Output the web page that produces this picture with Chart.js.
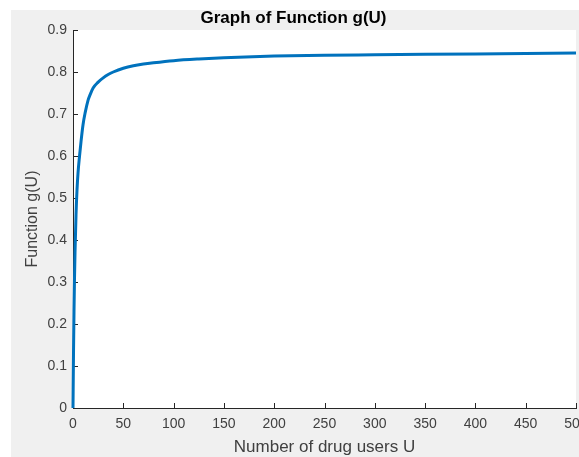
<!DOCTYPE html>
<html>
<head>
<meta charset="utf-8">
<script src="https://cdn.jsdelivr.net/npm/chart.js@4/dist/chart.umd.min.js"></script>
<style>
  html, body { margin: 0; padding: 0; background: #fff; overflow: hidden; }
  #wrap { position: absolute; left: 11px; top: 10px; width: 600px; height: 447px; background: #f0f0f0; }
</style>
</head>
<body>
<div id="wrap"><canvas id="gChart" width="600" height="447"></canvas></div>
<script>
(() => {
    'use strict'

    // g(U) sampled along the curve
    const users = [0, 0.5, 1, 1.5, 2, 3, 4, 5, 6.5, 8, 10, 12, 15, 17, 20, 25, 30, 35, 40, 50, 60, 70, 80, 100, 125, 150, 200, 250, 300, 350, 400, 450, 500]
    const gValues = [0, 0.13, 0.23, 0.31, 0.37, 0.46, 0.52, 0.56, 0.60, 0.635, 0.675, 0.702, 0.733, 0.746, 0.762, 0.776, 0.786, 0.794, 0.800, 0.809, 0.815, 0.819, 0.822, 0.827, 0.831, 0.834, 0.838, 0.840, 0.841, 0.842, 0.843, 0.844, 0.845]

    const xTicks = [0, 50, 100, 150, 200, 250, 300, 350, 400, 450, 500]
    const yTicks = [0, 0.1, 0.2, 0.3, 0.4, 0.5, 0.6, 0.7, 0.8, 0.9]
    const yTickLabels = ['0', '0.1', '0.2', '0.3', '0.4', '0.5', '0.6', '0.7', '0.8', '0.9']

    const axisColor = '#262626'
    const textColor = '#404040'
    const family = '"Liberation Sans", Arial, Helvetica, sans-serif'

    // white plot area + inward tick marks
    const axesBox = {
        id: 'axesBox',
        beforeDraw(chart) {
            const { ctx, chartArea: a } = chart
            ctx.save()
            ctx.fillStyle = '#fff'
            ctx.fillRect(a.left, a.top, a.right - a.left, a.bottom - a.top)
            ctx.restore()
        },
        beforeDatasetsDraw(chart) {
            const { ctx, chartArea: a, scales } = chart
            ctx.save()
            ctx.strokeStyle = axisColor
            ctx.lineWidth = 1
            ctx.beginPath()
            scales.x.ticks.forEach(t => {
                const px = Math.round(scales.x.getPixelForValue(t.value)) + 0.5
                ctx.moveTo(px, a.bottom)
                ctx.lineTo(px, a.bottom - 5)
            })
            scales.y.ticks.forEach(t => {
                const py = Math.round(scales.y.getPixelForValue(t.value)) + 0.5
                ctx.moveTo(a.left, py)
                ctx.lineTo(a.left + 5, py)
            })
            ctx.stroke()
            ctx.restore()
        }
    }

    const ctx = document.getElementById('gChart')
    // eslint-disable-next-line no-unused-vars
    const gChart = new Chart(ctx, {
        type: 'scatter',
        data: {
            datasets: [{
                data: users.map((u, i) => ({ x: u, y: gValues[i] })),
                showLine: true,
                borderColor: '#0072BD',
                borderWidth: 3,
                pointRadius: 0,
                cubicInterpolationMode: 'monotone',
                clip: 4
            }]
        },
        options: {
            responsive: false,
            animation: false,
            layout: { padding: { left: 0, right: 35, top: 0, bottom: 0 } },
            plugins: {
                legend: { display: false },
                tooltip: { enabled: false },
                title: {
                    display: true,
                    text: 'Graph of Function g(U)',
                    color: '#000',
                    font: { family, size: 17, weight: 'bold', lineHeight: 1 },
                    padding: { top: 0, bottom: 3 }
                }
            },
            scales: {
                x: {
                    type: 'linear',
                    min: 0,
                    max: 500,
                    afterBuildTicks: s => { s.ticks = xTicks.map(v => ({ value: v })) },
                    afterFit: s => { s.height = 49 },
                    grid: { display: false, drawTicks: false },
                    border: { display: true, color: axisColor, width: 1 },
                    ticks: {
                        color: textColor,
                        font: { family, size: 14 },
                        padding: 8,
                        maxRotation: 0
                    },
                    title: {
                        display: true,
                        text: 'Number of drug users U',
                        color: textColor,
                        font: { family, size: 17, lineHeight: 1.1 },
                        padding: { top: 0, bottom: 0 }
                    }
                },
                y: {
                    min: 0,
                    max: 0.9,
                    afterBuildTicks: s => { s.ticks = yTicks.map(v => ({ value: v })) },
                    afterFit: s => { s.width = 62 },
                    grid: { display: false, drawTicks: false },
                    border: { display: true, color: axisColor, width: 1 },
                    ticks: {
                        color: textColor,
                        font: { family, size: 14 },
                        padding: 6,
                        callback: (v, i) => yTickLabels[i]
                    },
                    title: {
                        display: true,
                        text: 'Function g(U)',
                        color: textColor,
                        font: { family, size: 16 },
                        padding: { top: 12, bottom: 0 }
                    }
                }
            }
        },
        plugins: [axesBox]
    })
})()
</script>
</body>
</html>
